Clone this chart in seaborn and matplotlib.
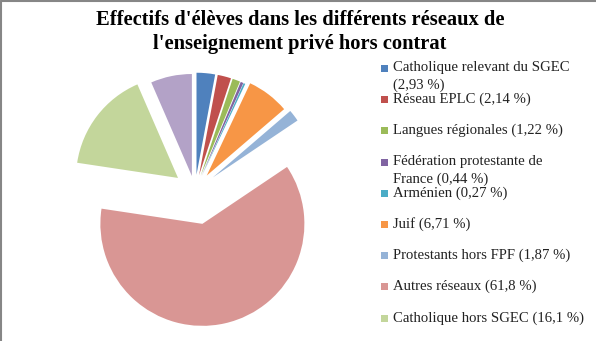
import matplotlib
matplotlib.use("Agg")
import matplotlib.pyplot as plt
from matplotlib.patches import Rectangle
from matplotlib.lines import Line2D
import seaborn as sns

sns.set_theme(style="white")
plt.rcParams['font.family'] = ['Liberation Serif', 'DejaVu Serif']

title = "Effectifs d'élèves dans les différents réseaux de\nl'enseignement privé hors contrat"
categories = ["Catholique relevant du SGEC", "Réseau EPLC", "Langues régionales",
              "Fédération protestante de France", "Arménien", "Juif",
              "Protestants hors FPF", "Autres réseaux", "Catholique hors SGEC", "Autre"]
values = [2.93, 2.14, 1.22, 0.44, 0.27, 6.71, 1.87, 61.8, 16.1, 6.52]
legend_labels = ["Catholique relevant du SGEC\n(2,93 %)", "Réseau EPLC (2,14 %)",
                 "Langues régionales (1,22 %)", "Fédération protestante de\nFrance (0,44 %)",
                 "Arménien (0,27 %)", "Juif (6,71 %)", "Protestants hors FPF (1,87 %)",
                 "Autres réseaux (61,8 %)", "Catholique hors SGEC (16,1 %)"]
colors = ["#4F81BD", "#C0504D", "#9BBB59", "#8064A2", "#4BACC6", "#F79646",
          "#95B3D7", "#D99694", "#C3D69B", "#B3A2C7"]
explode = [0.16, 0.16, 0.16, 0.16, 0.16, 0.19, 0.22, 0.33, 0.21, 0.15]

W, H = 596, 341
fig = plt.figure(figsize=(W / 100, H / 100), dpi=100)
fig.patch.set_facecolor("white")

# pie axes: center (195,191) px, radius 102 px
cx, cy, R, half = 195, 191, 102, 150
ax = fig.add_axes([(cx - half) / W, (H - cy - half) / H, 2 * half / W, 2 * half / H])
ax.pie(values, colors=colors, explode=explode, startangle=90, counterclock=False,
       radius=1.0, wedgeprops=dict(linewidth=0))
ax.set_xlim(-half / R, half / R)
ax.set_ylim(-half / R, half / R)
ax.set_aspect("auto")
ax.axis("off")

fig.text(300 / W, 1 - 32 / H, title, ha="center", va="center", fontsize=14.8,
         fontweight="bold", linespacing=1.33, color="black")

# legend
y0 = 68
step = 31.2
for i, lab in enumerate(legend_labels):
    y = y0 + i * step
    fig.patches.append(Rectangle((381 / W, 1 - (y + 4) / H), 7 / W, 7 / H,
                                 transform=fig.transFigure, facecolor=colors[i],
                                 edgecolor="none"))
    fig.text(393 / W, 1 - (y - 6.5) / H, lab, ha="left", va="top", fontsize=10.6,
             linespacing=1.4, color="#222222")

# border (left and top only, as cropped)
fig.add_artist(Line2D([0.5 / W, 0.5 / W], [0, 1 - 0.5 / H], transform=fig.transFigure,
                      color="#868686", lw=1.5))
fig.add_artist(Line2D([0.5 / W, 1], [1 - 0.5 / H, 1 - 0.5 / H], transform=fig.transFigure,
                      color="#868686", lw=1.5))

fig.savefig("out.png", dpi=100, facecolor="white")
